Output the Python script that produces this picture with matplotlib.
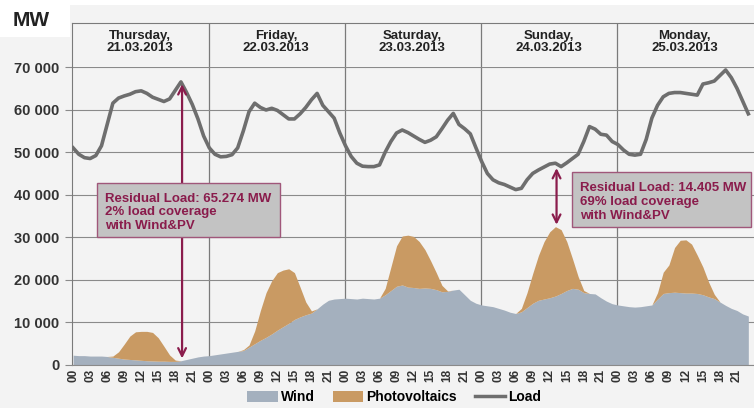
import matplotlib.pyplot as plt
from matplotlib.patches import Rectangle, Patch
from matplotlib.lines import Line2D
import numpy as np

plt.rcParams['font.family'] = ['Liberation Sans', 'DejaVu Sans']

# hourly values, Thu 21.03.2013 00:00 .. Mon 25.03.2013 23:00 (MW)
days = ["Thursday,\n21.03.2013", "Friday,\n22.03.2013", "Saturday,\n23.03.2013",
        "Sunday,\n24.03.2013", "Monday,\n25.03.2013"]
hour_labels = ["00", "03", "06", "09", "12", "15", "18", "21"]

load = [
    51000, 49500, 48700, 48500, 49200, 51500, 56500, 61500, 62700, 63200, 63600, 64200,
    64400, 63800, 62900, 62400, 61900, 62500, 64500, 66500, 64000, 61200, 57800, 53800,
    51000, 49500, 48900, 49000, 49400, 51000, 55000, 59500, 61500, 60500, 59900, 60300,
    59800, 58800, 57800, 57800, 59000, 60500, 62300, 63800, 61000, 59500, 58000, 54500,
    51500, 49000, 47400, 46700, 46600, 46600, 47000, 50000, 52500, 54500, 55200, 54600,
    53800, 53000, 52300, 52800, 53600, 55500, 57500, 59100, 56500, 55500, 54300, 51000,
    47800, 45000, 43500, 42800, 42400, 41800, 41200, 41500, 43500, 45000, 45800, 46500,
    47200, 47400, 46600, 47500, 48500, 49500, 52500, 56000, 55400, 54200, 54000, 52500,
    51800, 50500, 49500, 49300, 49500, 53000, 58000, 61000, 63000, 63800, 64000, 64000,
    63800, 63600, 63400, 66000, 66300, 66700, 68000, 69300, 67500, 65000, 62000, 59000,
]
wind = [
    2300, 2200, 2200, 2100, 2100, 2100, 2000, 1800, 1600, 1400, 1300, 1200,
    1100, 1000, 950, 900, 900, 850, 850, 1000, 1300, 1600, 1900, 2100,
    2200, 2400, 2600, 2800, 3000, 3200, 3400, 4200, 5000, 5800, 6500, 7300,
    8200, 9000, 9800, 10700, 11300, 11800, 12200, 13200, 14300, 15200, 15500, 15600,
    15700, 15600, 15500, 15700, 15600, 15500, 15700, 16500, 17500, 18500, 18800, 18300,
    18200, 18000, 18100, 18000, 17700, 17200, 17300, 17600, 17800, 16500, 15200, 14500,
    14100, 13900, 13700, 13300, 12900, 12400, 12100, 12500, 13500, 14500, 15200, 15500,
    15800, 16200, 16800, 17500, 18000, 17800, 17000, 16800, 16700, 15800, 15000, 14400,
    14100, 13900, 13700, 13600, 13700, 13900, 14100, 15500, 16800, 17000, 17100, 17000,
    16900, 16900, 16800, 16500, 16000, 15600, 14800, 14000, 13300, 12800, 12000, 11500,
]
pv = [
    0, 0, 0, 0, 0, 0, 0, 300, 1500, 3500, 5500, 6600,
    6800, 6900, 6700, 5500, 3500, 1500, 300, 0, 0, 0, 0, 0,
    0, 0, 0, 0, 0, 0, 200, 500, 3000, 7000, 10500, 12500,
    13500, 13300, 12800, 11000, 7000, 3000, 500, 0, 0, 0, 0, 0,
    0, 0, 0, 0, 0, 0, 0, 1500, 5500, 9500, 11500, 12200,
    12000, 11000, 9000, 6500, 4000, 1500, 100, 0, 0, 0, 0, 0,
    0, 0, 0, 0, 0, 0, 0, 800, 3500, 7000, 10500, 13500,
    15500, 16300, 15000, 11500, 7000, 3000, 500, 0, 0, 0, 0, 0,
    0, 0, 0, 0, 0, 0, 0, 1500, 5000, 6500, 10500, 12300,
    12500, 11500, 9000, 6500, 3500, 1000, 0, 0, 0, 0, 0, 0,
]

hours = np.arange(len(load))
wind = np.array(wind)
top = wind + np.array(pv)

bg = '#f3f3f3'
wind_col = '#a4b0be'
pv_col = '#c99a63'
load_col = '#6e6e6e'
ann_col = '#8a1c4c'
grid_col = '#8a8a8a'

fig = plt.figure(figsize=(7.54, 4.08), dpi=100, facecolor=bg)
# white corner behind "MW" and white top strip
fig.patches.append(Rectangle((0, 1 - 37 / 408), 70 / 754, 37 / 408, transform=fig.transFigure,
                             fc='white', ec='none', zorder=0))
fig.patches.append(Rectangle((0, 1 - 5 / 408), 1, 5 / 408, transform=fig.transFigure,
                             fc='white', ec='none', zorder=0))

ax = fig.add_axes([72 / 754, 43 / 408, 682 / 754, 298 / 408])
ax.set_facecolor(bg)
ax.set_xlim(-0.2, 119.4)
ax.set_ylim(0, 70000)

ax.set_yticks(np.arange(0, 70001, 10000))
ax.set_yticklabels(['0' if v == 0 else f"{v // 1000} 000" for v in range(0, 70001, 10000)],
                   fontsize=10.5, fontweight='bold', color='#333333')
ax.yaxis.grid(True, color=grid_col, lw=0.8)
ax.set_axisbelow(True)
for d in range(1, 5):
    ax.axvline(d * 24 - 0.1, color='#7a7a7a', lw=0.9, zorder=0.5)

xt = np.arange(0, 120, 3)
ax.set_xticks(xt)
ax.set_xticklabels([hour_labels[i % 8] for i in range(len(xt))], rotation=90,
                   fontsize=8.5, fontweight='bold', color='#333333')
ax.set_xticks(np.arange(0, 121, 24), minor=True)
ax.tick_params(axis='x', which='major', length=0, pad=3)
ax.tick_params(axis='x', which='minor', length=4, color=grid_col)
ax.tick_params(axis='y', length=5, color=grid_col, pad=4)
for s in ['top', 'right']:
    ax.spines[s].set_visible(False)
ax.spines['left'].set_color('#7a7a7a')
ax.spines['bottom'].set_color(grid_col)

ax.fill_between(hours, 0, wind, color=wind_col, lw=0, zorder=2)
ax.fill_between(hours, wind, top, color=pv_col, lw=0, zorder=2)
ax.plot(hours, load, color=load_col, lw=2.6, zorder=3)

# residual load arrows
ax.annotate('', xy=(19.2, 900), xytext=(19.2, 66600),
            arrowprops=dict(arrowstyle='<->', color=ann_col, lw=1.6, mutation_scale=14), zorder=4)
ax.annotate('', xy=(85.2, 32300), xytext=(85.2, 46900),
            arrowprops=dict(arrowstyle='<->', color=ann_col, lw=1.6, mutation_scale=14), zorder=4)

boxes = [
    ((4.2, 30070), 32.3, 12680, (5.7, 40500),
     "Residual Load: 65.274 MW\n2% load coverage\nwith Wind&PV"),
    ((87.9, 32420), 31.5, 12920, (89.4, 43000),
     "Residual Load: 14.405 MW\n69% load coverage\nwith Wind&PV"),
]
for (x0, y0), w, h, (tx, ty), txt in boxes:
    ax.add_patch(Rectangle((x0, y0), w, h, fc='#c3c3c3', ec='#a0577a', lw=1.0, zorder=5))
    ax.text(tx, ty, txt, color=ann_col, fontsize=9.5, fontweight='bold', va='top', ha='left',
            linespacing=1.2, zorder=6)

# header with the days
hx = fig.add_axes([72 / 754, 341 / 408, 682 / 754, 44 / 408])
hx.set_facecolor(bg)
hx.set_xlim(ax.get_xlim())
hx.set_ylim(0, 1)
hx.set_xticks([])
hx.set_yticks([])
for s in ['right', 'bottom']:
    hx.spines[s].set_visible(False)
hx.spines['top'].set_color('#7a7a7a')
hx.spines['left'].set_color('#7a7a7a')
for d in range(1, 5):
    hx.axvline(d * 24 - 0.1, color='#7a7a7a', lw=0.9)
for i, name in enumerate(days):
    hx.text(i * 24 + 11.8, 0.57, name, ha='center', va='center', fontsize=9.5,
            fontweight='bold', color='#222222', linespacing=1.0)

fig.text(13 / 754, 1 - 20 / 408, "MW", fontsize=15, fontweight='bold', color='#222222',
         va='center', ha='left')

handles = [Patch(fc=wind_col, ec='none'), Patch(fc=pv_col, ec='none'),
           Line2D([0], [0], color=load_col, lw=2.5)]
fig.legend(handles, ["Wind", "Photovoltaics", "Load"], loc='center', ncol=3,
           bbox_to_anchor=(0.523, 0.026), frameon=False,
           prop={'weight': 'bold', 'size': 10}, handlelength=2.2, handletextpad=0.2,
           columnspacing=1.3, handleheight=0.8)

fig.savefig('out.png', dpi=100, facecolor=bg)
